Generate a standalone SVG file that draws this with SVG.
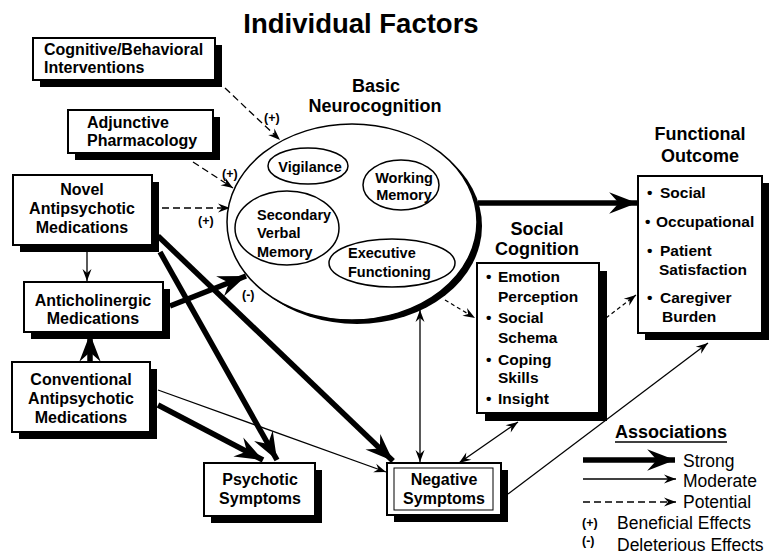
<svg xmlns="http://www.w3.org/2000/svg" width="770" height="555" viewBox="0 0 770 555">
<style>
text{font-family:"Liberation Sans",Arial,sans-serif;fill:#000}
.t{font-size:16px;font-weight:bold}
.c{text-anchor:middle}
.h{font-size:18px;font-weight:bold;text-anchor:middle}
.e{font-size:14.5px;font-weight:bold}
.b{font-size:15.5px;font-weight:bold}
.lbl{font-size:12.5px;font-weight:bold}
.lg{font-size:17.5px}
.box{fill:#fff;stroke:#000;stroke-width:2}
.sh{fill:#000}
.strong{stroke:#000;stroke-width:5.5;fill:none;marker-end:url(#ahS)}
.mod{stroke:#000;stroke-width:1.3;fill:none;marker-end:url(#ahM)}
.bi{stroke:#000;stroke-width:1.3;fill:none;marker-end:url(#ahM);marker-start:url(#ahM)}
.pot{stroke:#000;stroke-width:1.3;fill:none;stroke-dasharray:7 4;marker-end:url(#ahM)}
.pot2{stroke:#000;stroke-width:1.2;fill:none;stroke-dasharray:4 3;marker-end:url(#ahM)}
.in{fill:none;stroke:#000;stroke-width:1.5}
</style>
<defs>
<marker id="ahS" markerUnits="userSpaceOnUse" markerWidth="30" markerHeight="24" viewBox="-26 -11 28 22" refX="0" refY="0" orient="auto">
<path d="M0,0 L-26,-10 L-17,0 L-26,10 Z" fill="#000"/>
</marker>
<marker id="ahM" markerUnits="userSpaceOnUse" markerWidth="14" markerHeight="10" viewBox="-12 -5 13 10" refX="0" refY="0" orient="auto-start-reverse">
<path d="M0,0 L-12,-4.5 L-8,0 L-12,4.5 Z" fill="#000"/>
</marker>
</defs>

<text x="361" y="33" style="font-size:27.5px;font-weight:bold;text-anchor:middle">Individual Factors</text>

<g id="connectors">
<path class="pot" d="M225,88 L280,140"/>
<path class="pot" d="M193,162 L233,188"/>
<path class="pot" d="M162,208 L230,208"/>
<path class="mod" d="M87,246 L87,281"/>
<path class="strong" d="M90,362 L90,334"/>
<path class="strong" d="M170,306 L246,276"/>
<path class="strong" d="M160,252 L277,460"/>
<path class="strong" d="M158,236 L393,461"/>
<path class="strong" d="M158,405 L263,460"/>
<path class="mod" d="M158,390 L386,472"/>
<path class="bi" d="M420,310 L420,462"/>
<path class="bi" d="M518,422 L459,463"/>
<path class="mod" d="M508,494 L708,343"/>
<path class="strong" d="M478,203 L637,203"/>
<path class="pot2" d="M445,300 L475,318"/>
<path class="pot2" d="M606,318 L636,295"/>
</g>

<g id="labels">
<text class="lbl" x="264" y="122">(+)</text>
<text class="lbl" x="222" y="178">(+)</text>
<text class="lbl" x="198" y="225">(+)</text>
<text class="lbl" x="242" y="299">(-)</text>
</g>

<g id="neurocognition">
<text class="h" x="376" y="92">Basic</text>
<text class="h" x="375" y="112">Neurocognition</text>
<ellipse cx="357" cy="226" rx="125" ry="98" fill="#000"/>
<ellipse cx="352" cy="222" rx="125" ry="98" fill="#fff" stroke="#000" stroke-width="1.5"/>
<g id="vigilance">
<ellipse class="in" cx="308" cy="166" rx="40" ry="18"/>
<text class="e c" x="310" y="172">Vigilance</text>
</g>
<g id="working">
<ellipse class="in" cx="401" cy="185" rx="38" ry="25"/>
<text class="e c" x="404" y="183">Working</text>
<text class="e c" x="404" y="200">Memory</text>
</g>
<g id="verbal">
<ellipse class="in" cx="287" cy="228" rx="52" ry="37"/>
<text class="e" x="257" y="220">Secondary</text>
<text class="e" x="257" y="238">Verbal</text>
<text class="e" x="257" y="257">Memory</text>
</g>
<g id="executive">
<ellipse class="in" cx="392" cy="263" rx="63" ry="24"/>
<text class="e" x="348" y="258">Executive</text>
<text class="e" x="348" y="277">Functioning</text>
</g>
</g>

<g id="cbi">
<rect class="sh" x="40" y="45" width="182" height="42"/>
<rect class="box" x="33" y="38" width="182" height="42"/>
<text class="t" x="44" y="55">Cognitive/Behavioral</text>
<text class="t" x="44" y="73">Interventions</text>
</g>
<g id="adj">
<rect class="sh" x="75" y="117" width="145" height="43"/>
<rect class="box" x="68" y="110" width="145" height="43"/>
<text class="t" x="87" y="128">Adjunctive</text>
<text class="t" x="87" y="146">Pharmacology</text>
</g>
<g id="novel">
<rect class="sh" x="20" y="182" width="139" height="70"/>
<rect class="box" x="13" y="175" width="139" height="70"/>
<text class="t c" x="82" y="195">Novel</text>
<text class="t c" x="82" y="214">Antipsychotic</text>
<text class="t c" x="82" y="233">Medications</text>
</g>
<g id="antichol">
<rect class="sh" x="31" y="289" width="139" height="50"/>
<rect class="box" x="24" y="282" width="139" height="50"/>
<text class="t c" x="93" y="306">Anticholinergic</text>
<text class="t c" x="93" y="324">Medications</text>
</g>
<g id="conv">
<rect class="sh" x="19" y="369" width="138" height="70"/>
<rect class="box" x="12" y="362" width="138" height="70"/>
<text class="t c" x="81" y="385">Conventional</text>
<text class="t c" x="81" y="404">Antipsychotic</text>
<text class="t c" x="81" y="423">Medications</text>
</g>
<g id="psychotic">
<rect class="sh" x="211" y="470" width="111" height="53"/>
<rect class="box" x="204" y="463" width="111" height="53"/>
<text class="t c" x="260" y="485">Psychotic</text>
<text class="t c" x="260" y="504">Symptoms</text>
</g>
<g id="negative">
<rect class="sh" x="394" y="470" width="114" height="52"/>
<rect class="box" x="387" y="463" width="114" height="52"/>
<rect x="394" y="468" width="99" height="42" fill="none" stroke="#000" stroke-width="1"/>
<text class="t c" x="444" y="485">Negative</text>
<text class="t c" x="444" y="504">Symptoms</text>
</g>
<g id="social">
<text class="h" x="537" y="235">Social</text>
<text class="h" x="537" y="255">Cognition</text>
<rect class="sh" x="485" y="271" width="122" height="150"/>
<rect class="box" x="477" y="263" width="122" height="150"/>
<text class="b" x="486" y="282">•</text><text class="b" x="498" y="282">Emotion</text>
<text class="b" x="498" y="302">Perception</text>
<text class="b" x="486" y="323">•</text><text class="b" x="498" y="323">Social</text>
<text class="b" x="498" y="343">Schema</text>
<text class="b" x="486" y="365">•</text><text class="b" x="498" y="365">Coping</text>
<text class="b" x="498" y="383">Skills</text>
<text class="b" x="486" y="404">•</text><text class="b" x="498" y="404">Insight</text>
</g>
<g id="functional">
<text class="h" x="700" y="140">Functional</text>
<text class="h" x="700" y="162">Outcome</text>
<rect class="sh" x="645" y="183" width="124" height="157"/>
<rect class="box" x="638" y="176" width="124" height="157"/>
<text class="b" x="647" y="198">•</text><text class="b" x="660" y="198">Social</text>
<text class="b" x="645" y="227">•</text><text class="b" x="656" y="227">Occupational</text>
<text class="b" x="647" y="256">•</text><text class="b" x="660" y="256">Patient</text>
<text class="b" x="659" y="275">Satisfaction</text>
<text class="b" x="647" y="303">•</text><text class="b" x="660" y="303">Caregiver</text>
<text class="b" x="662" y="322">Burden</text>
</g>

<g id="legend">
<text x="615" y="438" style="font-size:18px;font-weight:bold">Associations</text>
<line x1="615" y1="442" x2="727" y2="442" stroke="#000" stroke-width="1.5"/>
<path class="strong" d="M583,460 L675,460"/>
<path class="mod" d="M583,479 L676,479"/>
<path class="pot" d="M583,502 L676,502"/>
<text class="lg" x="683" y="467">Strong</text>
<text class="lg" x="683" y="487">Moderate</text>
<text class="lg" x="683" y="508">Potential</text>
<text class="lbl" x="582" y="527">(+)</text>
<text class="lg" x="617" y="529">Beneficial Effects</text>
<text class="lbl" x="582" y="545">(-)</text>
<text class="lg" x="617" y="551">Deleterious Effects</text>
</g>
</svg>
